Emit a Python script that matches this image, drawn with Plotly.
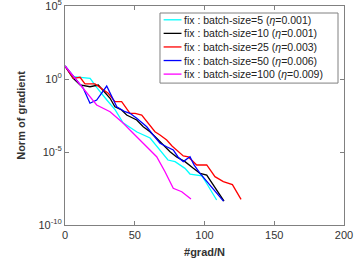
import plotly.graph_objects as go

# ---- data (x = #grad/N, y = log10 of norm of gradient) ----
names = [
    "fix : batch-size=5 (<i>η</i>=0.001)",
    "fix : batch-size=10 (<i>η</i>=0.001)",
    "fix : batch-size=25 (<i>η</i>=0.003)",
    "fix : batch-size=50 (<i>η</i>=0.006)",
    "fix : batch-size=100 (<i>η</i>=0.009)",
]
colors = ["#00FFFF", "#000000", "#FF0000", "#0000FF", "#FF00FF"]

x_bs5 = [0, 6, 18, 22.7, 30, 36, 41.6, 51.6, 61, 68, 73.8, 78.9, 86, 89.6, 98.2, 101.8, 108.7]
logy_bs5 = [0.89, 0.16, 0.05, -0.57, -1.44, -2.12, -3.0, -3.63, -4.04, -4.86, -5.55, -5.66, -6.12, -6.51, -6.64, -7.19, -8.29]

x_bs10 = [0, 5.7, 10.8, 17.9, 23.9, 27.2, 32.3, 35.8, 40.6, 44.2, 51.4, 56.1, 60.9, 65.7, 70.5, 75.3, 80, 86, 92, 96.8, 101.6, 106.3, 114]
logy_bs10 = [0.89, 0.07, -0.41, -0.53, -0.41, -0.75, -1.32, -1.9, -2.12, -2.47, -2.81, -3.27, -3.61, -4.06, -4.52, -4.98, -5.34, -5.66, -6.12, -6.46, -6.58, -7.26, -8.36]

x_bs25 = [0, 6, 10.8, 14.3, 21.5, 26.3, 31, 35.8, 40.6, 46.6, 50.2, 55, 59.7, 64.5, 68.1, 72.9, 76.7, 81, 84.8, 88.4, 94.4, 101.6, 107.5, 113.5, 120, 126.2]
logy_bs25 = [0.89, 0.05, 0.12, -0.34, -0.34, -0.64, -0.98, -1.55, -1.55, -2.35, -2.35, -2.47, -3.03, -3.61, -3.84, -4.18, -4.59, -4.98, -5.27, -5.34, -5.89, -5.89, -6.69, -7.03, -7.23, -8.25]

x_bs50 = [0, 8.4, 13.1, 17.9, 22.7, 29.9, 33.5, 37.1, 43, 46.6, 51.4, 58.6, 63.3, 68.1, 72.9, 77.6, 81, 84.8, 89.6, 92.5, 96.8, 113.6]
logy_bs50 = [0.89, -0.07, -0.64, -1.66, -1.44, -0.48, -1.21, -1.9, -2.24, -2.35, -2.69, -3.27, -3.84, -4.40, -4.64, -4.86, -5.34, -5.66, -5.32, -5.89, -6.46, -8.36]

x_bs100 = [0, 8.4, 17.9, 22.7, 32.3, 41.6, 47.8, 56.1, 65.7, 71.7, 77.6, 83.7, 90.3]
logy_bs100 = [0.89, -0.07, -1.21, -1.78, -2.24, -3.01, -3.61, -4.40, -5.32, -6.35, -7.49, -7.72, -8.22]

xs = [x_bs5, x_bs10, x_bs25, x_bs50, x_bs100]
logys = [logy_bs5, logy_bs10, logy_bs25, logy_bs50, logy_bs100]

x_ticks = [0, 50, 100, 150, 200]
y_tick_exps = [-10, -5, 0, 5]
y_ticks = [10.0 ** e for e in y_tick_exps]
y_ticktext = ["10<sup>%d</sup>" % e for e in y_tick_exps]

FONT = "Liberation Sans, Arial, Helvetica, sans-serif"
AX = "#808080"
TXT = "#333333"

fig = go.Figure()
for name, c, x, ly in zip(names, colors, xs, logys):
    fig.add_trace(go.Scatter(
        x=x, y=[10 ** v for v in ly], mode="lines", name=name,
        line=dict(color=c, width=1.3), showlegend=False,
    ))

# ---- legend box drawn in paper coordinates ----
leg_x0, leg_x1 = 0.3405, 0.9785
leg_y1, leg_y0 = 0.968, 0.648
row0, row_step = 0.937, 0.062
fig.add_shape(type="rect", xref="paper", yref="paper",
              x0=leg_x0, x1=leg_x1, y0=leg_y0, y1=leg_y1,
              line=dict(color=AX, width=1), fillcolor="white", layer="above")
for i, (name, c) in enumerate(zip(names, colors)):
    yy = row0 - i * row_step
    fig.add_shape(type="line", xref="paper", yref="paper",
                  x0=leg_x0 + 0.013, x1=leg_x0 + 0.077, y0=yy, y1=yy,
                  line=dict(color=c, width=1.3), layer="above")
    fig.add_annotation(xref="paper", yref="paper", x=leg_x0 + 0.079, y=yy,
                       text=name, showarrow=False, xanchor="left", yanchor="middle",
                       font=dict(family=FONT, size=10.5, color="#222222"))

axis_common = dict(
    showline=True, linecolor=AX, linewidth=1, mirror="ticks",
    ticks="inside", ticklen=4, tickcolor=AX, showgrid=False, zeroline=False,
    tickfont=dict(family=FONT, size=11, color=TXT), automargin=False,
    ticklabeloverflow="allow",
)

fig.update_layout(
    width=359, height=266,
    margin=dict(l=65, r=15, t=6, b=41),
    paper_bgcolor="white", plot_bgcolor="white",
    font=dict(family=FONT, color=TXT),
    showlegend=False,
    xaxis=dict(
        range=[0, 200], tickvals=x_ticks,
        title=dict(text="<b>#grad/N</b>", font=dict(family=FONT, size=11, color=TXT), standoff=8),
        **axis_common,
    ),
    yaxis=dict(
        type="log", range=[-10, 5], tickvals=y_ticks, ticktext=y_ticktext,
        title=dict(text="<b>Norm of gradient</b>", font=dict(family=FONT, size=11, color=TXT), standoff=10),
        **axis_common,
    ),
)

fig.write_html("out.html", config={"displayModeBar": False},
               post_script="document.body.style.margin='0';document.body.style.overflow='hidden';")
